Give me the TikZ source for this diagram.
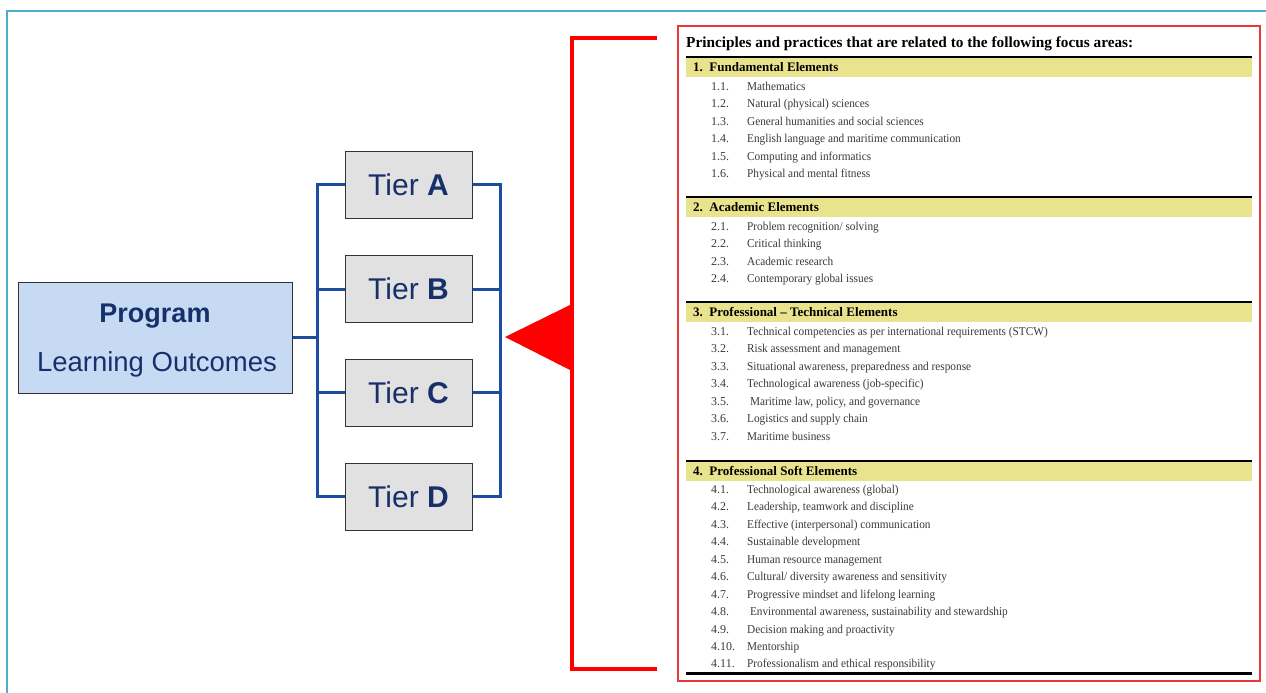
\documentclass[tikz,border=0pt]{standalone}
\usepackage{fontspec}
\setmainfont{Liberation Serif}
\newfontfamily\arialf{Liberation Sans}
\definecolor{frameteal}{HTML}{4BAFC8}
\definecolor{boxred}{HTML}{E8393A}
\definecolor{brred}{HTML}{FF0000}
\definecolor{progfill}{HTML}{C6DAF4}
\definecolor{tierfill}{HTML}{E1E1E1}
\definecolor{navy}{HTML}{17306A}
\definecolor{connblue}{HTML}{1C4DA1}
\definecolor{baryellow}{HTML}{E8E38C}
\definecolor{itemgray}{HTML}{3A3A3A}
\tikzset{
  progbox/.style={draw=black!80, line width=1pt, fill=progfill, minimum width=274pt, minimum height=111pt, inner sep=0pt},
  tierbox/.style={draw=black!80, line width=1pt, fill=tierfill, minimum width=127pt, minimum height=67pt, inner sep=0pt, text=navy, font=\arialf\fontsize{30}{32}\selectfont},
  conn/.style={connblue, line width=3pt},
  itemnum/.style={anchor=base west, inner sep=0pt, text=itemgray, font=\fontsize{12}{14}\selectfont},
  itemtext/.style={anchor=base west, inner sep=0pt, text=itemgray, font=\fontsize{12}{14}\selectfont, xscale=0.94},
  sechead/.style={anchor=base west, inner sep=0pt, text=black, font=\bfseries\fontsize{13}{15}\selectfont},
}
\newcommand\secbar[3]{%
  \fill[baryellow] (686,#1+1) rectangle (1252,#1+20);
  \draw[black, line width=1.6pt] (686,#1) -- (1252,#1);
  \node[sechead] (#2) at (693,#1+14.5) {#3};}
\newcommand\itm[4]{%
  \node[itemnum] (#1n) at (711,#2+4) {#3};
  \node[itemtext] (#1t) at (747,#2+4) {#4};}
\begin{document}
\begin{tikzpicture}[x=1pt,y=-1pt]
\useasboundingbox (0,0) rectangle (1266,693);
\fill[white] (0,0) rectangle (1266,693);
% outer frame
\draw[frameteal, line width=2.5pt] (1275,11) -- (7,11) -- (7,700);
% red box
\draw[boxred, line width=1.8pt] (678,26) rectangle (1260,681);
% bracket
\coordinate (brT) at (657,38);
\coordinate (brB) at (657,669);
\coordinate (brX) at (572,0);
\draw[brred, line width=4.5pt, line join=miter] (brT) -- (brT -| brX) -- (brB -| brX) -- (brB);
\coordinate (tip) at (505,337);
\fill[brred] (tip) -- (572,304) -- (572,371) -- cycle;
% program box
\node[progbox] (prog) at (155,337.5) {};
\node[text=navy, font=\arialf\bfseries\fontsize{27}{30}\selectfont, inner sep=0pt] (progT) at (155,316) {Program};
\node[text=navy, font=\arialf\fontsize{27.5}{30}\selectfont, inner sep=0pt] (progS) at (157,364) {Learning Outcomes};
% tiers
\node[tierbox] (tA) at (408.5,184.5) {Tier \textbf{A}};
\node[tierbox] (tB) at (408.5,289) {Tier \textbf{B}};
\node[tierbox] (tC) at (408.5,392.5) {Tier \textbf{C}};
\node[tierbox] (tD) at (408.5,496.5) {Tier \textbf{D}};
% connectors
\coordinate (busL) at (317,0);
\coordinate (busR) at (500,0);
\draw[conn] (prog.east) -- (prog.east -| busL);
\draw[conn] (tA.west) -- (tA.west -| busL) -- (tD.west -| busL) -- (tD.west);
\draw[conn] (tB.west) -- (tB.west -| busL);
\draw[conn] (tC.west) -- (tC.west -| busL);
\draw[conn] (tA.east) -- (tA.east -| busR) -- (tD.east -| busR) -- (tD.east);
\draw[conn] (tB.east) -- (tB.east -| busR);
\draw[conn] (tC.east) -- (tC.east -| busR);
% right panel
\node[anchor=base west, inner sep=0pt, font=\bfseries\fontsize{15.3}{17}\selectfont] (head) at (686,48) {Principles and practices that are related to the following focus areas:};
\secbar{57}{s1}{1.\enspace Fundamental Elements}
\itm{a1}{86}{1.1.}{Mathematics}
\itm{a2}{103.5}{1.2.}{Natural (physical) sciences}
\itm{a3}{121}{1.3.}{General humanities and social sciences}
\itm{a4}{138.5}{1.4.}{English language and maritime communication}
\itm{a5}{156}{1.5.}{Computing and informatics}
\itm{a6}{173.5}{1.6.}{Physical and mental fitness}
\secbar{197}{s2}{2.\enspace Academic Elements}
\itm{b1}{226}{2.1.}{Problem recognition/ solving}
\itm{b2}{243.5}{2.2.}{Critical thinking}
\itm{b3}{261}{2.3.}{Academic research}
\itm{b4}{278.5}{2.4.}{Contemporary global issues}
\secbar{302}{s3}{3.\enspace Professional -- Technical Elements}
\itm{c1}{331}{3.1.}{Technical competencies as per international requirements (STCW)}
\itm{c2}{348.5}{3.2.}{Risk assessment and management}
\itm{c3}{366}{3.3.}{Situational awareness, preparedness and response}
\itm{c4}{383.5}{3.4.}{Technological awareness (job-specific)}
\itm{c5}{401}{3.5.}{\hspace{3pt}Maritime law, policy, and governance}
\itm{c6}{418.5}{3.6.}{Logistics and supply chain}
\itm{c7}{436}{3.7.}{Maritime business}
\secbar{461}{s4}{4.\enspace Professional Soft Elements}
\itm{d1}{489}{4.1.}{Technological awareness (global)}
\itm{d2}{506.5}{4.2.}{Leadership, teamwork and discipline}
\itm{d3}{524}{4.3.}{Effective (interpersonal) communication}
\itm{d4}{541.5}{4.4.}{Sustainable development}
\itm{d5}{559}{4.5.}{Human resource management}
\itm{d6}{576.5}{4.6.}{Cultural/ diversity awareness and sensitivity}
\itm{d7}{594}{4.7.}{Progressive mindset and lifelong learning}
\itm{d8}{611.5}{4.8.}{\hspace{3pt}Environmental awareness, sustainability and stewardship}
\itm{d9}{629}{4.9.}{Decision making and proactivity}
\itm{d10}{646.5}{4.10.}{Mentorship}
\itm{d11}{663.5}{4.11.}{Professionalism and ethical responsibility}
\draw[black, line width=2.6pt] (686,673.5) -- (1252,673.5);
\end{tikzpicture}
\end{document}
